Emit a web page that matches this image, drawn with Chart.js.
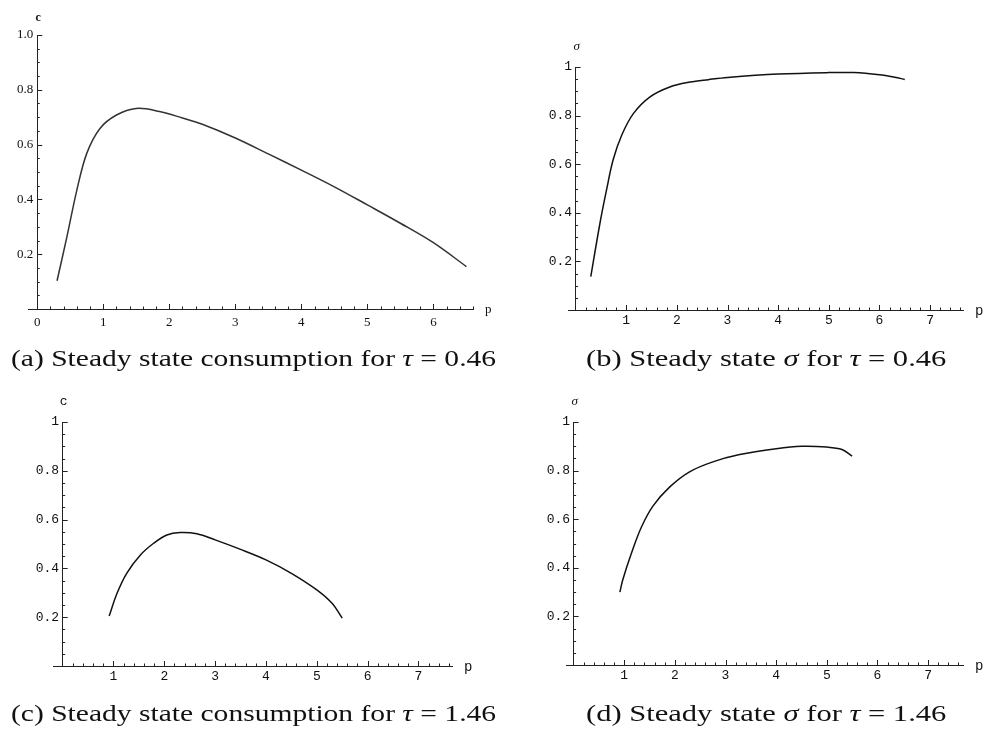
<!DOCTYPE html>
<html>
<head>
<meta charset="utf-8">
<script src="https://cdn.jsdelivr.net/npm/chart.js@4.4.1/dist/chart.umd.min.js"></script>
<style>
  body { margin: 0; background: #fff; width: 986px; height: 729px; overflow: hidden; position: relative; }
  .panel { position: absolute; width: 493px; height: 345px; }
  .cap { position: absolute; font-family: "Liberation Serif", "DejaVu Serif", serif; font-size: 24px; line-height: 24px; color: #111; white-space: nowrap; transform-origin: 0 0; }
</style>
</head>
<body>
<div class="panel" style="left:0;top:0"><canvas id="chartA"></canvas></div>
<div class="panel" style="left:493px;top:0"><canvas id="chartB"></canvas></div>
<div class="panel" style="left:0;top:360px"><canvas id="chartC"></canvas></div>
<div class="panel" style="left:493px;top:360px"><canvas id="chartD"></canvas></div>

<div class="cap" data-w="485" style="left:11px;top:346px">(a) Steady state consumption for <i>τ</i> = 0.46</div>
<div class="cap" data-w="360" style="left:586px;top:346px">(b) Steady state <i>σ</i> for <i>τ</i> = 0.46</div>
<div class="cap" data-w="485" style="left:11px;top:701px">(c) Steady state consumption for <i>τ</i> = 1.46</div>
<div class="cap" data-w="360" style="left:586px;top:701px">(d) Steady state <i>σ</i> for <i>τ</i> = 1.46</div>

<script>
// (a) consumption, tau = 0.46
const pA = [0.30, 0.45, 0.60, 0.75, 0.95, 1.20, 1.50, 1.85, 2.20, 2.50, 3.00, 3.50, 4.00, 4.50, 5.00, 5.50, 6.00, 6.50];
const cA = [0.103, 0.264, 0.434, 0.568, 0.659, 0.708, 0.732, 0.721, 0.697, 0.674, 0.624, 0.566, 0.507, 0.446, 0.38, 0.313, 0.242, 0.155];

// (b) sigma, tau = 0.46
const pB = [0.30, 0.48, 0.61, 0.74, 0.91, 1.14, 1.47, 1.86, 2.26, 2.62, 3.00, 4.00, 5.00, 5.50, 6.00, 6.30, 6.50];
const sigmaB = [0.137, 0.356, 0.493, 0.617, 0.719, 0.808, 0.877, 0.918, 0.938, 0.948, 0.957, 0.971, 0.977, 0.977, 0.968, 0.958, 0.949];

// (c) consumption, tau = 1.46
const pC = [0.915, 1.07, 1.26, 1.53, 1.79, 2.05, 2.31, 2.64, 3.00, 3.50, 4.00, 4.50, 5.00, 5.30, 5.50];
const cC = [0.205, 0.298, 0.38, 0.455, 0.503, 0.537, 0.547, 0.542, 0.517, 0.478, 0.435, 0.38, 0.312, 0.257, 0.196];

// (d) sigma, tau = 1.46
const pD = [0.915, 0.97, 1.14, 1.34, 1.57, 1.90, 2.29, 2.75, 3.28, 4.00, 4.50, 5.00, 5.30, 5.50];
const sigmaD = [0.30, 0.35, 0.459, 0.568, 0.655, 0.733, 0.795, 0.836, 0.866, 0.89, 0.90, 0.897, 0.887, 0.86];

// ticks
const xTicksA = [0, 1, 2, 3, 4, 5, 6];
const xLabelsA = ['0', '1', '2', '3', '4', '5', '6'];
const yTicksA = [0.2, 0.4, 0.6, 0.8, 1.0];
const yLabelsA = ['0.2', '0.4', '0.6', '0.8', '1.0'];
const xTicks = [1, 2, 3, 4, 5, 6, 7];
const xLabels = ['1', '2', '3', '4', '5', '6', '7'];
const yTicks = [0.2, 0.4, 0.6, 0.8, 1];
const yLabels = ['0.2', '0.4', '0.6', '0.8', '1'];

const SERIF = '"Liberation Serif", "DejaVu Serif", serif';
const MONO = '"Liberation Mono", "DejaVu Sans Mono", monospace';

// Mathematica-style inward ticks plus axis names at the ends of the axes
const axisDecor = {
  id: 'axisDecor',
  afterDraw(chart, args, o) {
    const { ctx, scales: { x, y } } = chart;
    const x0 = x.getPixelForValue(0);
    const y0 = y.getPixelForValue(0);
    ctx.save();
    ctx.strokeStyle = '#222';
    ctx.lineWidth = 1;
    ctx.beginPath();
    for (let v = Math.ceil(x.min / 0.2) * 0.2; v <= x.max + 1e-9; v += 0.2) {
      if (v < 0.05 && o.skipZero) continue;
      const major = Math.abs(v - Math.round(v)) < 1e-6;
      const px = Math.round(x.getPixelForValue(v)) + 0.5;
      ctx.moveTo(px, y0);
      ctx.lineTo(px, y0 - (major ? 5 : 2.5));
    }
    for (let v = 0.05; v <= y.max + 1e-9; v += 0.05) {
      const major = Math.abs(v * 5 - Math.round(v * 5)) < 1e-6;
      const py = Math.round(y.getPixelForValue(v)) + 0.5;
      ctx.moveTo(x0, py);
      ctx.lineTo(x0 + (major ? 5 : 2.5), py);
    }
    ctx.stroke();

    ctx.fillStyle = '#111';
    ctx.font = o.yFont;
    ctx.textAlign = 'center';
    ctx.textBaseline = 'middle';
    ctx.fillText(o.yTitle, x0 + 1, y.top - o.yGap);
    ctx.font = o.xFont;
    ctx.textAlign = 'left';
    ctx.fillText('p', x.right + 12, y0 + 1);
    ctx.restore();
  }
};

function makeChart(id, xs, ys, o) {
  return new Chart(document.getElementById(id), {
    type: 'line',
    data: {
      datasets: [{
        data: xs.map((p, i) => ({ x: p, y: ys[i] })),
        borderColor: o.lineColor,
        borderWidth: 1.5,
        pointRadius: 0,
        tension: 0.35,
        fill: false,
      }],
    },
    options: {
      responsive: true,
      maintainAspectRatio: false,
      animation: false,
      events: [],
      layout: { padding: o.pad },
      plugins: {
        legend: { display: false },
        tooltip: { enabled: false },
        axisDecor: o.decor,
      },
      scales: {
        x: {
          type: 'linear',
          min: o.xMin,
          max: o.xMax,
          position: { y: 0 },
          afterBuildTicks: s => { s.ticks = o.xTicks.map(v => ({ value: v })); },
          grid: { display: false, drawTicks: false },
          border: { display: true, color: '#222', width: 1 },
          ticks: {
            color: '#111',
            font: o.tickFont,
            padding: o.xPad,
            maxRotation: 0,
            autoSkip: false,
            callback: (v, i) => o.xLabels[i],
          },
        },
        // the axis line itself, at p = 0
        y: {
          type: 'linear',
          min: 0,
          max: 1,
          position: { x: 0 },
          grid: { display: false, drawTicks: false },
          border: { display: true, color: '#222', width: 1 },
          ticks: { display: false },
        },
        // tick labels, set a few pixels left of the axis line
        yl: {
          type: 'linear',
          min: 0,
          max: 1,
          position: { x: o.yLabelAt },
          afterBuildTicks: s => { s.ticks = o.yTicks.map(v => ({ value: v })); },
          grid: { display: false, drawTicks: false },
          border: { display: false },
          ticks: {
            color: '#111',
            font: o.tickFont,
            autoSkip: false,
            callback: (v, i) => o.yLabels[i],
          },
        },
      },
    },
    plugins: [axisDecor],
  });
}

makeChart('chartA', pA, cA, {
  lineColor: '#333',
  pad: { left: 28, right: 20, top: 35, bottom: 36 },
  xMin: -0.14, xMax: 6.6, yLabelAt: -0.06,
  xTicks: xTicksA, xLabels: xLabelsA, yTicks: yTicksA, yLabels: yLabelsA,
  tickFont: { family: SERIF, size: 13 },
  xPad: 6,
  decor: { yTitle: 'c', yGap: 17, yFont: 'bold 12px ' + SERIF, xFont: '13px ' + SERIF, skipZero: false },
});

makeChart('chartB', pB, sigmaB, {
  lineColor: '#111',
  pad: { left: 75, right: 23, top: 67, bottom: 35 },
  xMin: -0.15, xMax: 7.65, yLabelAt: -0.07,
  xTicks: xTicks, xLabels: xLabels, yTicks: yTicks, yLabels: yLabels,
  tickFont: { family: MONO, size: 13 },
  xPad: 3,
  decor: { yTitle: 'σ', yGap: 20, yFont: 'italic 13px ' + SERIF, xFont: '14px ' + MONO, skipZero: true },
});

makeChart('chartC', pC, cC, {
  lineColor: '#111',
  pad: { left: 53, right: 41, top: 62, bottom: 39 },
  xMin: -0.19, xMax: 7.66, yLabelAt: -0.07,
  xTicks: xTicks, xLabels: xLabels, yTicks: yTicks, yLabels: yLabels,
  tickFont: { family: MONO, size: 13 },
  xPad: 3,
  decor: { yTitle: 'c', yGap: 20, yFont: '13px ' + MONO, xFont: '14px ' + MONO, skipZero: true },
});

makeChart('chartD', pD, sigmaD, {
  lineColor: '#111',
  pad: { left: 73, right: 23, top: 62, bottom: 40 },
  xMin: -0.15, xMax: 7.69, yLabelAt: -0.07,
  xTicks: xTicks, xLabels: xLabels, yTicks: yTicks, yLabels: yLabels,
  tickFont: { family: MONO, size: 13 },
  xPad: 3,
  decor: { yTitle: 'σ', yGap: 20, yFont: 'italic 13px ' + SERIF, xFont: '14px ' + MONO, skipZero: true },
});

// stretch each caption to the width it has in the figure
document.querySelectorAll('.cap').forEach(el => {
  const k = Number(el.dataset.w) / el.scrollWidth;
  el.style.transform = `scaleX(${k.toFixed(3)})`;
});
</script>
</body>
</html>
